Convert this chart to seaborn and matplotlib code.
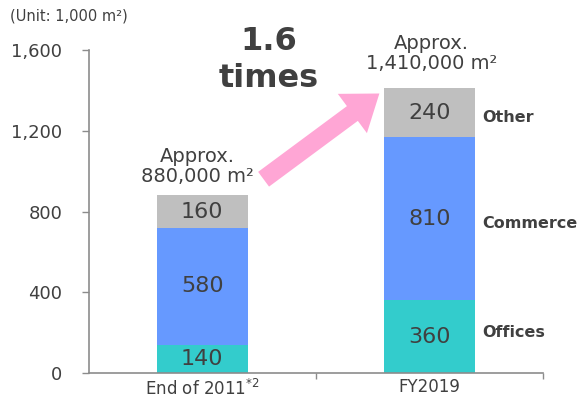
import numpy as np
import pandas as pd
import matplotlib
matplotlib.use("Agg")
import matplotlib.pyplot as plt
import seaborn as sns

# Floor area by use (unit: 1,000 m2)
categories = ["End of 2011", "FY2019"]
tick_labels = ["End of 2011$^{*2}$", "FY2019"]
offices = [140, 360]
commerce = [580, 810]
other = [160, 240]
series_names = ["Offices", "Commerce", "Other"]
totals_text = ["Approx.\n880,000 m\u00b2", "Approx.\n1,410,000 m\u00b2"]
growth_text = "1.6\ntimes"

colors = {"Offices": "#33CCCC", "Commerce": "#6699FF", "Other": "#BFBFBF"}
txt = "#404040"
axis_gray = "#8C8C8C"

sns.set_style("white")
plt.rcParams["font.family"] = ["DejaVu Sans"]

df = pd.DataFrame({"cat": categories, "Offices": offices,
                   "Commerce": commerce, "Other": other})
df["c1"] = df["Offices"]
df["c2"] = df["c1"] + df["Commerce"]
df["c3"] = df["c2"] + df["Other"]

fig = plt.figure(figsize=(5.8, 4.01), dpi=100)
ax = fig.add_axes([0.153, 0.070, 0.783, 0.805])

# stacked bars drawn as layered cumulative totals
for col, name in [("c3", "Other"), ("c2", "Commerce"), ("c1", "Offices")]:
    sns.barplot(data=df, x="cat", y=col, color=colors[name], width=0.4,
                saturation=1, linewidth=0, ax=ax, zorder=2)

ax.set_xlim(-0.5, 1.5)
ax.set_ylim(0, 1600)
ax.set_xlabel("")
ax.set_ylabel("")

# segment values
for i in range(len(categories)):
    bottoms = [0, df["c1"][i], df["c2"][i]]
    vals = [offices[i], commerce[i], other[i]]
    for b, v in zip(bottoms, vals):
        ax.text(i, b + v / 2, str(v), ha="center", va="center",
                fontsize=16, color=txt, zorder=3)

# totals above bars
ax.text(-0.02, df["c3"][0] + 45, totals_text[0], ha="center", va="bottom",
        fontsize=14, color=txt, linespacing=1.1)
ax.text(1.01, df["c3"][1] + 75, totals_text[1], ha="center", va="bottom",
        fontsize=14, color=txt, linespacing=1.1, clip_on=False)

# series labels beside the second bar
label_y = [200, 740, 1268]
for name, y in zip(series_names, label_y):
    ax.text(1.232, y, name, ha="left", va="center", fontsize=11.5,
            fontweight="bold", color=txt)

# growth arrow
ax.annotate("", xy=(0.78, 1385), xytext=(0.27, 960),
            arrowprops=dict(arrowstyle="simple,head_length=1.1,head_width=1.6,tail_width=0.6",
                            mutation_scale=22, color="#FFA6D5", lw=0, shrinkA=0, shrinkB=0),
            zorder=4)
ax.text(0.293, 1550, growth_text, ha="center", va="center", fontsize=23,
        fontweight="bold", color=txt, linespacing=1.25, clip_on=False)

# axes styling
for s in ["top", "right"]:
    ax.spines[s].set_visible(False)
for s in ["left", "bottom"]:
    ax.spines[s].set_color(axis_gray)
    ax.spines[s].set_linewidth(1.2)

ax.set_yticks([0, 400, 800, 1200, 1600])
ax.set_yticklabels([f"{v:,}" for v in [0, 400, 800, 1200, 1600]])
ax.tick_params(axis="y", direction="out", length=5, width=1, color=axis_gray,
               labelsize=13, labelcolor=txt, left=True, pad=14)
ax.set_xticks([0, 1])
ax.set_xticklabels(tick_labels)
ax.set_xticks([0.5, 1.5], minor=True)
ax.tick_params(axis="x", which="major", length=0, labelsize=12,
               labelcolor=txt, pad=4)
ax.tick_params(axis="x", which="minor", direction="out", length=4,
               width=1, color=axis_gray, bottom=True)

fig.text(0.017, 0.96, "(Unit: 1,000 m\u00b2)", fontsize=10.5, color=txt,
         ha="left", va="center")

fig.savefig("out.png", dpi=100)
